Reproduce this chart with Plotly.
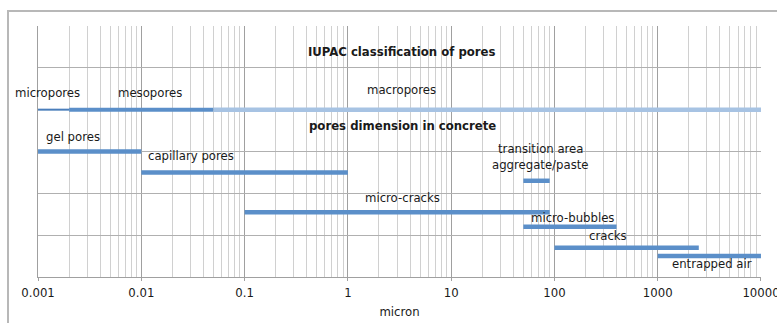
import math
import plotly.graph_objects as go

# Pore size ranges in micron (log scale), each drawn as a horizontal bar on its own row
iupac_names = ["micropores", "mesopores", "macropores"]
iupac_start = [0.001, 0.002, 0.05]
iupac_end = [0.002, 0.05, 10000]
iupac_row = [4.0, 4.0, 4.0]
iupac_colors = ["#4a7ebb", "#5b8fc9", "#a7c3e3"]
iupac_widths = [2, 4, 4.5]

concrete_names = ["gel pores", "capillary pores", "transition area aggregate/paste",
                  "micro-cracks", "micro-bubbles", "cracks", "entrapped air"]
concrete_start = [0.001, 0.01, 50, 0.1, 50, 100, 1000]
concrete_end = [0.01, 1, 90, 90, 400, 2500, 10000]
concrete_row = [3.0, 2.5, 2.3, 1.55, 1.2, 0.7, 0.5]
concrete_color = "#5b8fc9"

tick_values = [0.001, 0.01, 0.1, 1, 10, 100, 1000, 10000]
tick_labels = ["0.001", "0.01", "0.1", "1", "10", "100", "1000", "10000"]

# Text labels: text, x position in micron, row value, horizontal anchor, bold
label_text = ["IUPAC classification of pores", "micropores", "mesopores", "macropores",
              "pores dimension in concrete", "gel pores", "capillary pores",
              "transition area", "aggregate/paste", "micro-cracks", "micro-bubbles",
              "cracks", "entrapped air"]
label_x = [3.34, 0.00123, 0.01216, 3.34, 3.37, 0.00113, 0.0110,
           73.0, 73.0, 3.37, 148.0, 327.0, 3350.0]
label_y = [5.40, 4.40, 4.40, 4.48, 3.62, 3.35, 2.90, 3.08, 2.68, 1.90, 1.42, 0.985, 0.334]
label_anchor = ["center", "center", "center", "center", "center", "left", "left",
                "center", "center", "center", "center", "center", "center"]
label_bold = [True, False, False, False, True, False, False,
              False, False, False, False, False, False]

FONT = "DejaVu Sans Condensed, Liberation Sans Narrow, sans-serif"
FS = 13
TXT = "#1a1a1a"
W, H = 777, 323
ML, MR, MT, MB = 38, 16, 26, 46

fig = go.Figure()

for name, x0, x1, y, c, w in zip(iupac_names, iupac_start, iupac_end, iupac_row,
                                 iupac_colors, iupac_widths):
    fig.add_trace(go.Scatter(x=[x0, x1], y=[y, y], mode="lines", name=name,
                             line=dict(color=c, width=w), hoverinfo="name"))

for name, x0, x1, y in zip(concrete_names, concrete_start, concrete_end, concrete_row):
    fig.add_trace(go.Scatter(x=[x0, x1], y=[y, y], mode="lines", name=name,
                             line=dict(color=concrete_color, width=4.5), hoverinfo="name"))

# annotations on a log axis take log10 positions
for t, x, y, a, b in zip(label_text, label_x, label_y, label_anchor, label_bold):
    fig.add_annotation(x=math.log10(x), y=y, xref="x", yref="y",
                       text=f"<b>{t}</b>" if b else t,
                       showarrow=False, xanchor=a, yanchor="middle",
                       font=dict(family=FONT, size=FS, color=TXT))

# Outer chart frame (left and top edges visible, rest runs off the page)
pw, ph = W - ML - MR, H - MT - MB
fig.add_shape(type="rect", xref="paper", yref="paper",
              x0=(8 - ML) / pw, x1=(W + 20 - ML) / pw,
              y0=-(H + 20 - (H - MB)) / ph, y1=(H - MB - 11) / ph,
              line=dict(color="#b8b8b8", width=2), layer="below")

fig.update_layout(
    width=W, height=H,
    margin=dict(l=ML, r=MR, t=MT, b=MB),
    plot_bgcolor="white", paper_bgcolor="white",
    showlegend=False,
    font=dict(family=FONT, size=FS, color=TXT),
    xaxis=dict(
        type="log", range=[-3.0003, 4.0003],
        tickvals=tick_values, ticktext=tick_labels,
        automargin=False, ticklabeloverflow="allow",
        showgrid=True, gridcolor="#a0a0a0", gridwidth=1,
        minor=dict(dtick="D1", showgrid=True, gridcolor="#d0d0d0", gridwidth=1, ticks=""),
        ticks="outside", ticklen=3, tickcolor="#a0a0a0",
        showline=True, linecolor="#a0a0a0", linewidth=1,
        zeroline=False,
        tickfont=dict(family=FONT, size=FS, color=TXT),
        title=dict(text="micron", font=dict(family=FONT, size=FS, color=TXT), standoff=8),
    ),
    yaxis=dict(
        range=[0, 6], dtick=1, showticklabels=False, automargin=False,
        showgrid=True, gridcolor="#b0b0b0", gridwidth=1,
        showline=True, linecolor="#a0a0a0", linewidth=1,
        zeroline=False, ticks="",
    ),
)

fig.write_html("out.html")
